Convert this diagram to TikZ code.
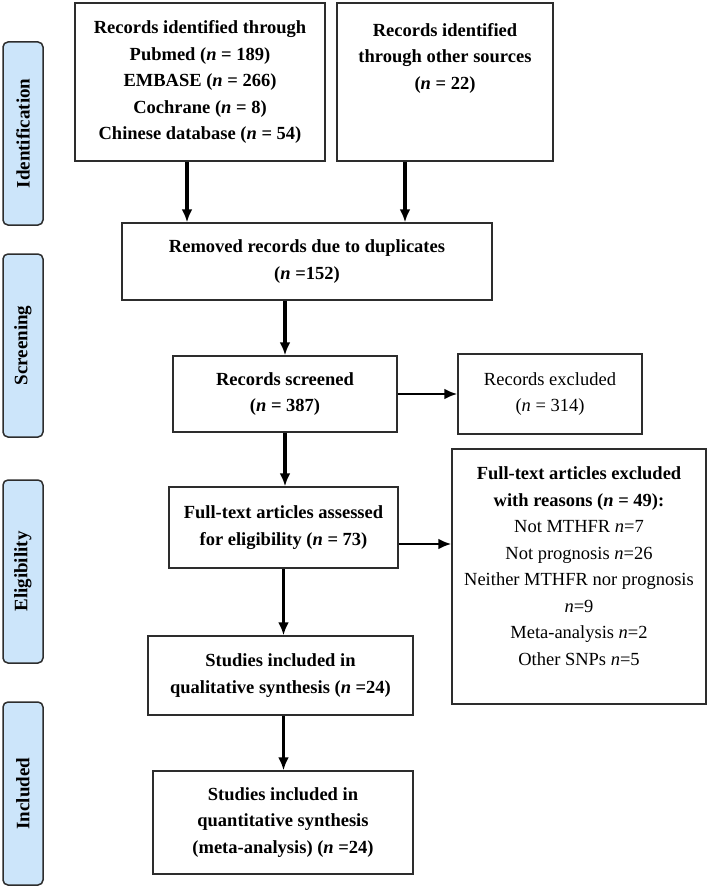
\documentclass[tikz,border=0pt]{standalone}
\usepackage{fontspec}
\setmainfont{Liberation Serif}
\usetikzlibrary{calc, arrows.meta, positioning}
\definecolor{phase}{RGB}{204,229,250}
\definecolor{frame}{RGB}{45,45,45}

\begin{document}
\begin{tikzpicture}
    [
        node distance=15mm,auto,>={Latex[length=13pt,width=11pt]},
        font=\fontsize{18.5}{26.5}\selectfont,
        box/.style={draw=frame, line width=1.5pt, align=center, inner sep=4pt},
        bbox/.style={box, font=\fontsize{18.5}{26.5}\selectfont\bfseries},
        phasebox/.style={draw=frame, fill=phase, line width=1.5pt, rounded corners=5pt,
            rotate=90, minimum width=183pt, minimum height=40pt, inner sep=0pt,
            font=\fontsize{19}{26.5}\selectfont\bfseries}
    ]
    \tikzstyle{line} = [draw, ->, line width=3.2pt]
    \tikzstyle{thinline} = [draw, ->, line width=2.4pt]

    \useasboundingbox (0,0) rectangle (709pt,-888pt);

    % Phases
    \node[phasebox] (identification) at (23pt,-133.5pt) {Identification};
    \node[phasebox] (screening) at (23pt,-345.5pt) {Screening};
    \node[phasebox] (eligibility) at (23pt,-571.5pt) {Eligibility};
    \node[phasebox] (included) at (23pt,-793.5pt) {Included};

    % Identification
    \node[bbox, minimum width=224pt, minimum height=76pt] (screened) at (285pt,-394pt)
        {Records screened\\ (\textit{n} = 387)};
    \node[bbox, above of=screened, node distance=132.5pt, xshift=22pt,
        minimum width=370pt, minimum height=77pt] (duplicates)
        {Removed records due to duplicates\\ (\textit{n} =152)};
    \node[bbox, above of=duplicates, node distance=179.5pt, xshift=-107pt,
        minimum width=250pt, minimum height=158pt] (databases)
        {Records identified through\\ Pubmed (\textit{n} = 189)\\ EMBASE (\textit{n} = 266)\\
         Cochrane (\textit{n} = 8)\\ Chinese database (\textit{n} = 54)};
    \node[bbox, right of=databases, node distance=245pt, text depth=52pt,
        minimum width=216pt, minimum height=158pt] (other)
        {Records identified\\ through other sources\\ (\textit{n} = 22)};

    % Screening
    \node[box, right of=screened, node distance=265pt,
        minimum width=184pt, minimum height=80pt] (excluded)
        {Records excluded\\ (\textit{n} = 314)};

    % Eligibility
    \node[bbox, below of=screened, node distance=133.5pt, xshift=-1.5pt,
        minimum width=229pt, minimum height=81pt] (fulltext)
        {Full-text articles assessed\\ for eligibility (\textit{n} = 73)};
    \node[box, right of=fulltext, node distance=295.5pt, yshift=-49pt, text depth=21pt,
        minimum width=254pt, minimum height=255pt] (reasons)
        {{\bfseries Full-text articles excluded}\\ {\bfseries with reasons (\textit{n} = 49):}\\
         Not MTHFR \textit{n}=7\\ Not prognosis \textit{n}=26\\ Neither MTHFR nor prognosis\\
         \textit{n}=9\\ Meta-analysis \textit{n}=2\\ Other SNPs \textit{n}=5};

    % Included
    \node[bbox, below of=fulltext, node distance=148pt, xshift=-3pt,
        minimum width=265pt, minimum height=79pt] (qualitative)
        {Studies included in\\ qualitative synthesis (\textit{n} =24)};
    \node[bbox, below of=qualitative, node distance=147pt, xshift=2.5pt,
        minimum width=260pt, minimum height=103pt] (quantitative)
        {Studies included in\\ quantitative synthesis\\ (meta-analysis) (\textit{n} =24)};

    \path[line] ([xshift=-13pt]databases.south) -- ([xshift=-13pt]databases.south |- duplicates.north);
    \path[line] ([xshift=-40pt]other.south) -- ([xshift=-40pt]other.south |- duplicates.north);
    \path[line] (duplicates.south -| screened) -- (screened);
    \path[line] (screened) -- (screened |- fulltext.north);
    \path[line] (fulltext) -- (fulltext |- qualitative.north);
    \path[line] (qualitative.south -| fulltext) -- (fulltext |- quantitative.north);
    \path[thinline] (screened.east) -- (screened.east -| excluded.west);
    \path[thinline] ([yshift=-16.5pt]fulltext.east) -- ([yshift=-16.5pt]fulltext.east -| reasons.west);

\end{tikzpicture}
\end{document}
